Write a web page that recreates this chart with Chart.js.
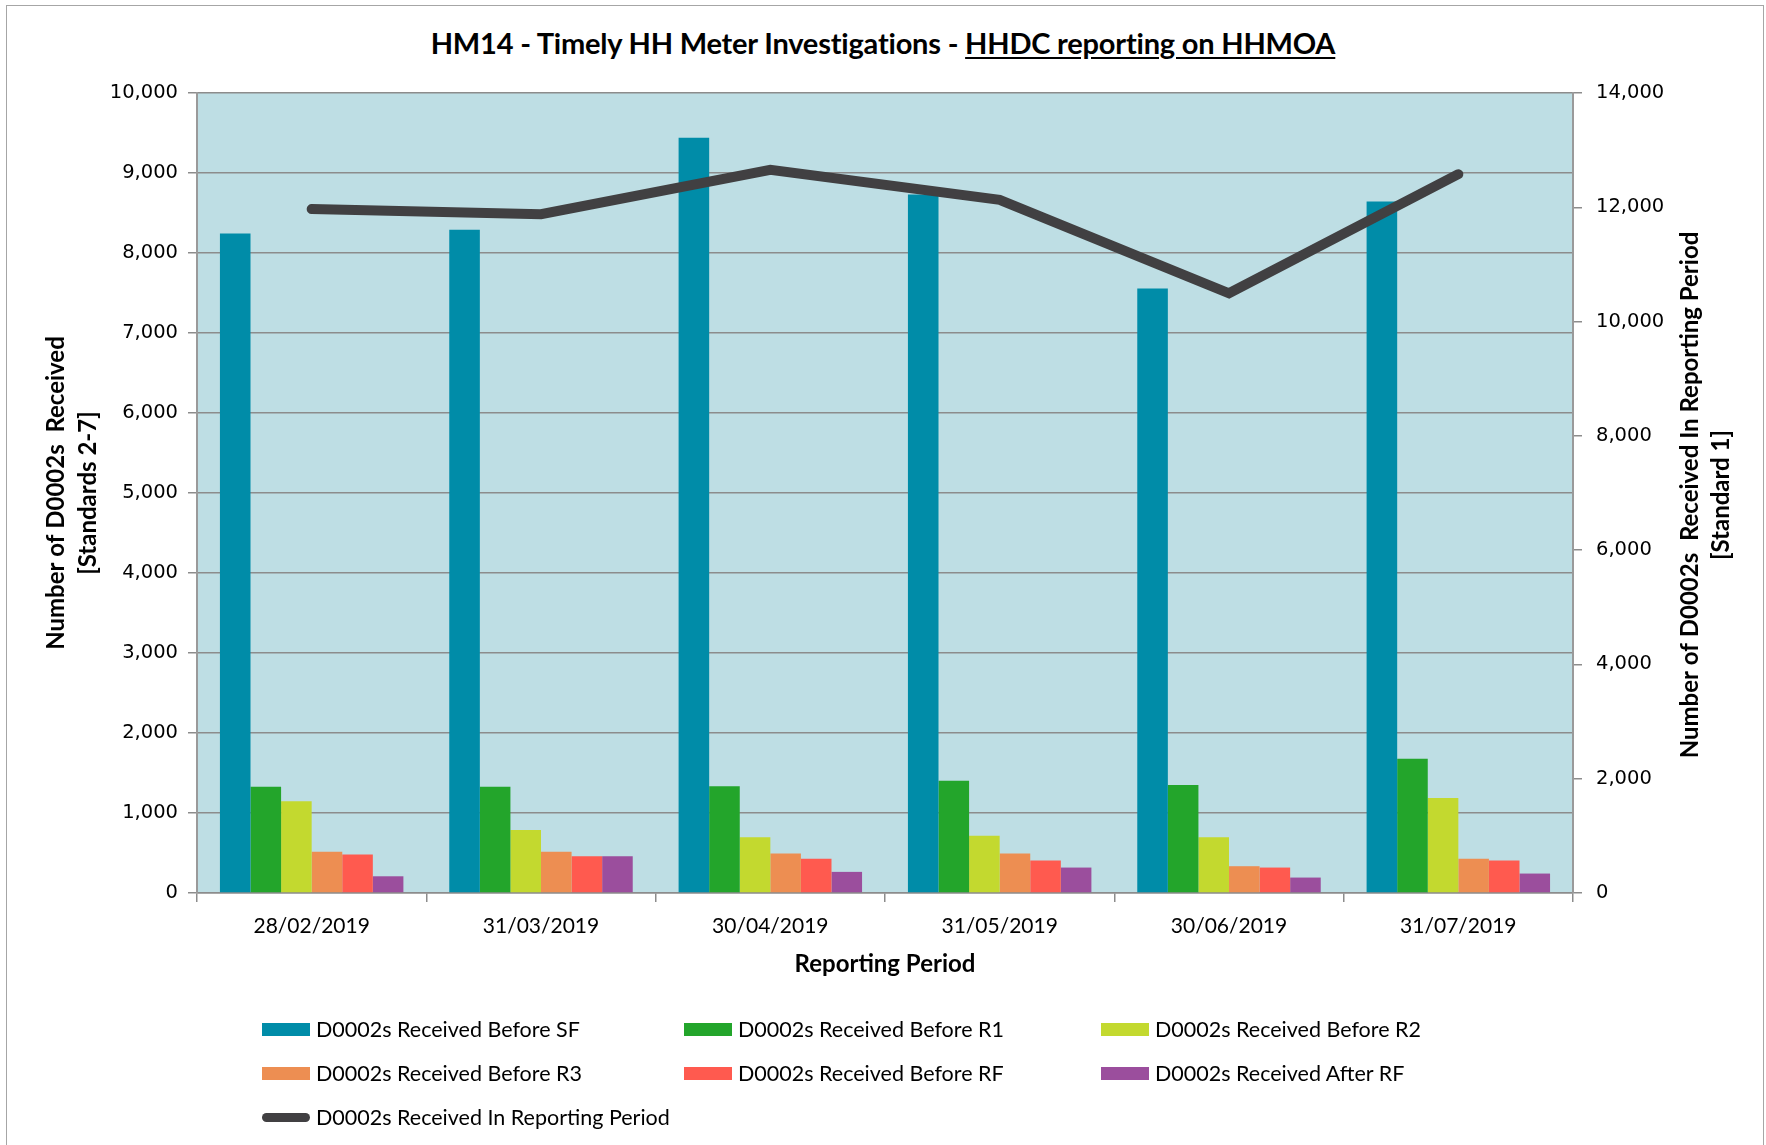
<!DOCTYPE html>
<html>
<head>
<meta charset="utf-8">
<title>HM14 - Timely HH Meter Investigations</title>
<script src="https://cdn.jsdelivr.net/npm/chart.js@4.4.1/dist/chart.umd.min.js"></script>
<style>
  body { margin: 0; background: #fff; }
  #wrap { position: relative; width: 1766px; height: 1145px; overflow: hidden; background: #fff; }
  #frame { position: absolute; left: 6px; top: 5px; width: 1756px; height: 1200px; border: 1px solid #a6a6a6; }
  #chart { position: absolute; left: 0; top: 0; }
  #title { position: absolute; left: 0; width: 1766px; top: 25px; text-align: center;
           font: bold 29px Lato, "Open Sans", sans-serif; color: #000; letter-spacing: -0.2px; }
  #title u { text-underline-offset: 3px; }
  #legend { position: absolute; left: 262px; top: 1012px; width: 1300px;
            display: grid; grid-template-columns: 422px 417px 400px; row-gap: 10px;
            font: 21.5px Lato, "Open Sans", sans-serif; color: #000; }
  .item { display: flex; align-items: center; height: 34px; }
  .swatch { width: 48px; height: 13px; margin-right: 6px; }
  .swatch.line { height: 9px; border-radius: 5px; }
</style>
</head>
<body>
<div id="wrap">
  <div id="frame"></div>
  <div id="title">HM14 - Timely HH Meter Investigations - <u>HHDC reporting on HHMOA</u></div>
  <canvas id="chart" width="1766" height="1145"></canvas>
  <div id="legend"></div>
</div>
<script>
// Reporting periods (x axis)
const periods = ['28/02/2019', '31/03/2019', '30/04/2019', '31/05/2019', '30/06/2019', '31/07/2019'];

// Bars, left axis (Standards 2-7)
const beforeSF = [8245, 8290, 9440, 8730, 7555, 8645];
const beforeR1 = [1328, 1328, 1333, 1404, 1350, 1677];
const beforeR2 = [1148, 787, 696, 717, 696, 1186];
const beforeR3 = [516, 516, 494, 494, 335, 428];
const beforeRF = [482, 460, 428, 406, 318, 406];
const afterRF = [209, 460, 264, 318, 193, 243];

// Line, right axis (Standard 1)
const inPeriod = [11970, 11880, 12655, 12130, 10495, 12580];

const barNames = ['D0002s Received Before SF', 'D0002s Received Before R1', 'D0002s Received Before R2',
                  'D0002s Received Before R3', 'D0002s Received Before RF', 'D0002s Received After RF'];
const barValues = [beforeSF, beforeR1, beforeR2, beforeR3, beforeRF, afterRF];
const barColors = ['#008ca8', '#23a52b', '#c3d92f', '#ed8e52', '#ff5a4f', '#9b4e9d'];
const lineName = 'D0002s Received In Reporting Period';
const lineColor = '#414042';

const gridGrey = '#8c8c8c';
const tickFont = { family: '"DejaVu Sans", Verdana, sans-serif', size: 19.5 };
const titleFont = { family: 'Lato, "Open Sans", sans-serif', size: 24, weight: 'bold', lineHeight: 1.3 };

const datasets = barValues.map((vals, i) => ({
    type: 'bar',
    label: barNames[i],
    data: vals,
    backgroundColor: barColors[i],
    borderWidth: 0,
    yAxisID: 'y',
    categoryPercentage: 0.8,
    barPercentage: 1.0,
    order: 1
}));
datasets.push({
    type: 'line',
    label: lineName,
    data: inPeriod,
    borderColor: lineColor,
    borderWidth: 10,
    borderCapStyle: 'round',
    borderJoinStyle: 'miter',
    pointRadius: 0,
    tension: 0,
    yAxisID: 'y1',
    order: 0
});

// light blue plot area
const plotBg = {
    id: 'plotBg',
    beforeDraw(chart) {
        const { ctx, chartArea: a } = chart;
        ctx.save();
        ctx.fillStyle = '#bedee4';
        ctx.fillRect(a.left, a.top, a.right - a.left, a.bottom - a.top);
        ctx.restore();
    }
};

// right axis title reads bottom-to-top like the left one
const rightTitle = {
    id: 'rightTitle',
    afterDraw(chart) {
        const { ctx, chartArea: a } = chart;
        const lines = ['Number of D0002s  Received In Reporting Period', '[Standard 1]'];
        ctx.save();
        ctx.translate(1690, (a.top + a.bottom) / 2 + 2);
        ctx.rotate(-Math.PI / 2);
        ctx.font = 'bold 24px Lato, "Open Sans", sans-serif';
        ctx.fillStyle = '#000';
        ctx.textAlign = 'center';
        ctx.textBaseline = 'middle';
        lines.forEach((t, i) => ctx.fillText(t, 0, i * 31));
        ctx.restore();
    }
};

const fmt = v => Number(v).toLocaleString('en-US');

new Chart(document.getElementById('chart'), {
    data: { labels: periods, datasets: datasets },
    options: {
        responsive: false,
        animation: false,
        layout: { padding: { left: 10, right: 10, top: 93, bottom: 162 } },
        plugins: {
            legend: { display: false },
            tooltip: { enabled: false }
        },
        scales: {
            x: {
                offset: true,
                grid: { offset: true, drawOnChartArea: false, color: gridGrey, tickLength: 9, lineWidth: 1.5 },
                border: { color: gridGrey, width: 1.5 },
                ticks: { color: '#000', padding: 12, font: { family: 'Lato, "Open Sans", sans-serif', size: 21 } },
                title: { display: true, text: 'Reporting Period', color: '#000', font: titleFont, padding: { top: 4, bottom: 3 } },
                afterFit(s) { s.height = 90; }
            },
            y: {
                position: 'left',
                min: 0, max: 10000,
                ticks: { stepSize: 1000, color: '#000', padding: 10, font: tickFont, callback: fmt },
                grid: { color: gridGrey, lineWidth: 1.5, tickLength: 9 },
                border: { color: '#9a9a9a', width: 2 },
                title: {
                    display: true,
                    text: ['Number of D0002s  Received', '[Standards 2-7]'],
                    color: '#000', font: titleFont, padding: { top: 31 }
                },
                afterFit(s) { s.width = 187; }
            },
            y1: {
                position: 'right',
                min: 0, max: 14000,
                ticks: { stepSize: 2000, color: '#000', padding: 14, font: tickFont, callback: fmt },
                grid: { drawOnChartArea: false, color: gridGrey, lineWidth: 1.5, tickLength: 9 },
                border: { color: '#9a9a9a', width: 2 },
                afterFit(s) { s.width = 183; }
            }
        }
    },
    plugins: [plotBg, rightTitle]
});

// legend below the chart, three columns like the original
const legend = document.getElementById('legend');
const addItem = (name, color, isLine) => {
    const div = document.createElement('div');
    div.className = 'item';
    const sw = document.createElement('span');
    sw.className = 'swatch' + (isLine ? ' line' : '');
    sw.style.background = color;
    div.appendChild(sw);
    div.appendChild(document.createTextNode(name));
    legend.appendChild(div);
};
barNames.forEach((n, i) => addItem(n, barColors[i], false));
addItem(lineName, lineColor, true);
</script>
</body>
</html>
